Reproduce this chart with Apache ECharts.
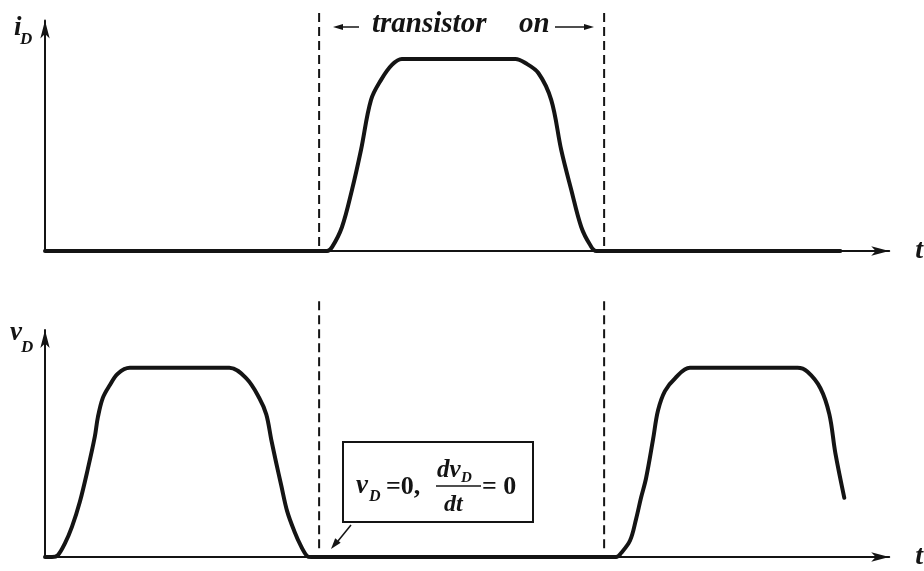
<!DOCTYPE html>
<html>
<head>
<meta charset="utf-8">
<script src="https://cdn.jsdelivr.net/npm/echarts@6/dist/echarts.min.js"></script>
<style>
  html, body { margin: 0; padding: 0; background: #ffffff; }
  #chart { width: 924px; height: 571px; }
</style>
</head>
<body>
<div id="chart"></div>
<script>
// Drain current i_D during one switching interval (time in arbitrary units, current normalised)
const idTime  = [0, 33.41, 34.0, 35.18, 36.36, 37.43, 38.61, 39.79, 41.09, 42.27,
                 55.72, 56.90, 58.44, 59.97, 61.15, 62.34, 63.52, 64.58, 65.29, 94.21];
const idValue = [0, 0, 0.02, 0.125, 0.318, 0.526, 0.786, 0.89, 0.969, 1.0,
                 1.0, 0.979, 0.927, 0.786, 0.526, 0.318, 0.125, 0.031, 0, 0];

// Drain voltage v_D over the same time base (normalised)
const vdTime  = [0, 0.83, 1.53, 2.36, 3.19, 4.13, 5.08, 5.90, 6.26, 6.85, 7.67, 8.62, 10.04,
                 21.84, 23.85, 25.38, 26.21, 26.80, 27.39, 27.98, 28.69, 29.52, 30.34, 31.05, 31.52,
                 67.65, 68.24, 69.30, 70.01, 70.60, 71.19, 72.02, 72.61, 73.43, 74.62, 76.39,
                 89.14, 90.32, 91.85, 92.91, 93.62, 94.68];
const vdValue = [0, 0, 0.01, 0.072, 0.159, 0.292, 0.467, 0.636, 0.738, 0.841, 0.908, 0.969, 1.0,
                 1.0, 0.944, 0.841, 0.754, 0.621, 0.497, 0.379, 0.241, 0.138, 0.056, 0.005, 0,
                 0, 0.021, 0.087, 0.2, 0.313, 0.415, 0.62, 0.774, 0.877, 0.944, 1.0,
                 1.0, 0.979, 0.892, 0.754, 0.549, 0.313];

// Instants where the transistor turns on and off
const switchTimes = [32.47, 66.23];

const ink = '#141414';
const serif = "'Liberation Serif', 'DejaVu Serif', serif";

const pairs = (xs, ys) => xs.map((x, i) => [x, ys[i]]);

function axisX(gridIndex) {
  return {
    type: 'value', gridIndex, min: 0, max: 100,
    name: 't', nameLocation: 'end', nameGap: 26,
    nameTextStyle: { fontFamily: serif, fontStyle: 'italic', fontWeight: 'bold', fontSize: 28, color: ink },
    axisLine: { show: true, symbol: ['none', 'arrow'], symbolSize: [7, 18],
                lineStyle: { color: ink, width: 2 } },
    axisTick: { show: false }, axisLabel: { show: false }, splitLine: { show: false }
  };
}
function axisY(gridIndex) {
  return {
    type: 'value', gridIndex, min: 0, max: 1.2,
    axisLine: { show: true, symbol: ['none', 'arrow'], symbolSize: [7, 18],
                lineStyle: { color: ink, width: 2 } },
    axisTick: { show: false }, axisLabel: { show: false }, splitLine: { show: false }
  };
}

function waveform(name, idx, data) {
  return {
    name, type: 'line', xAxisIndex: idx, yAxisIndex: idx, data,
    smooth: 0.35, symbol: 'none', clip: false,
    lineStyle: { color: ink, width: 4, join: 'round', cap: 'round' }, z: 3
  };
}
function switchLine(idx, t, lo, hi) {
  return {
    type: 'line', xAxisIndex: idx, yAxisIndex: idx, data: [[t, lo], [t, hi]],
    symbol: 'none', clip: false, silent: true,
    lineStyle: { color: ink, width: 2, type: [9, 5] }, z: 2
  };
}

const series = [
  waveform('iD', 0, pairs(idTime, idValue)),
  waveform('vD', 1, pairs(vdTime, vdValue)),
  ...switchTimes.map(t => switchLine(0, t, 0.026, 1.245)),
  ...switchTimes.map(t => switchLine(1, t, 0.046, 1.354))
];

// text placed by its vertical middle
function txt(x, y, s, size, italic) {
  return {
    type: 'text', x, y, silent: true,
    style: { text: s, fill: ink, fontFamily: serif, fontSize: size,
             fontStyle: italic ? 'italic' : 'normal', fontWeight: 'bold',
             align: 'left', verticalAlign: 'middle' }
  };
}
function arrowHead(tipX, tipY, dirX, dirY, len, half) {
  const bx = tipX - dirX * len, by = tipY - dirY * len;
  const px = -dirY * half, py = dirX * half;
  return { type: 'polygon', silent: true,
           shape: { points: [[tipX, tipY], [bx + px, by + py], [bx - px, by - py]] },
           style: { fill: ink } };
}

const graphic = [
  // axis titles
  txt(14, 28, 'i', 27, true), txt(20, 40, 'D', 17, true),
  txt(10, 333, 'v', 27, true), txt(21, 348, 'D', 17, true),
  // "transistor on" span marker
  txt(372, 25, 'transistor', 29, true), txt(519, 25, 'on', 29, true),
  { type: 'line', silent: true, shape: { x1: 340, y1: 27, x2: 359, y2: 27 }, style: { stroke: ink, lineWidth: 1.5 } },
  arrowHead(333, 27, -1, 0, 10, 3),
  { type: 'line', silent: true, shape: { x1: 555, y1: 27, x2: 585, y2: 27 }, style: { stroke: ink, lineWidth: 1.5 } },
  arrowHead(594, 27, 1, 0, 10, 3),
  // boxed condition
  { type: 'rect', silent: true, shape: { x: 343, y: 442, width: 190, height: 80 },
    style: { fill: 'none', stroke: ink, lineWidth: 2 } },
  txt(356, 486, 'v', 27, true), txt(369, 497, 'D', 16, true),
  txt(386, 487, '=0,', 26, false),
  txt(437, 471, 'dv', 25, true), txt(461, 478, 'D', 15, true),
  { type: 'line', silent: true, shape: { x1: 436, y1: 486, x2: 481, y2: 486 }, style: { stroke: ink, lineWidth: 1.5 } },
  txt(444, 505, 'dt', 24, true),
  txt(482, 487, '= 0', 26, false),
  // pointer from the box
  { type: 'line', silent: true, shape: { x1: 351, y1: 525, x2: 338, y2: 541 }, style: { stroke: ink, lineWidth: 1.5 } },
  arrowHead(331, 549, -0.63, 0.78, 11, 3.5)
];

const chart = echarts.init(document.getElementById('chart'), null, { renderer: 'canvas' });
chart.setOption({
  animation: false,
  backgroundColor: '#ffffff',
  grid: [
    { left: 45, right: 32, top: 20.6, height: 230.4 },
    { left: 45, right: 32, top: 330, height: 234 }
  ],
  xAxis: [axisX(0), axisX(1)],
  yAxis: [axisY(0), axisY(1)],
  series,
  graphic
});
</script>
</body>
</html>
